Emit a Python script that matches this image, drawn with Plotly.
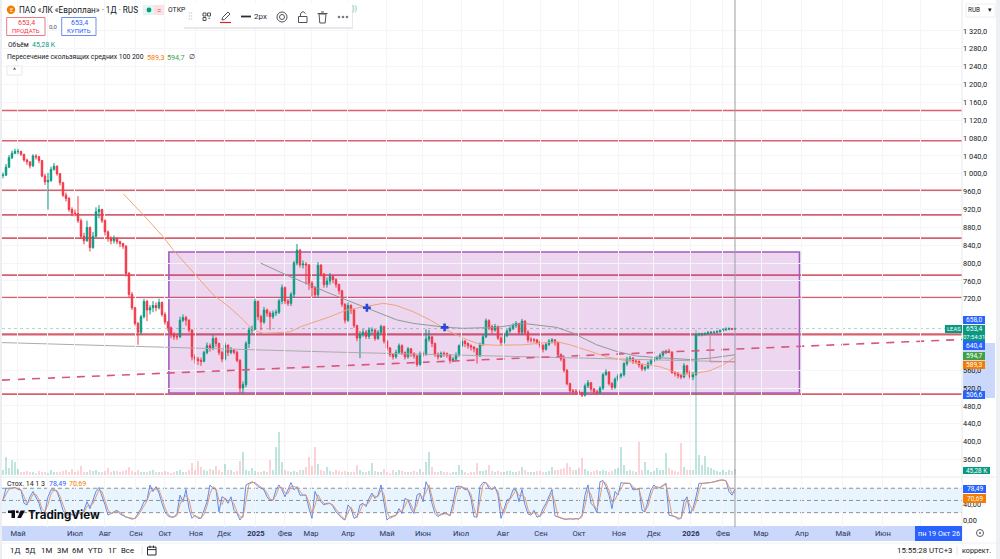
import plotly.graph_objects as go

W, H = 1000, 559

# Daily bars of LEAS, thinned to every second session
closes = [
    997,1015,1036,1046,1050,1050,1044,1031,1027,1018,
    1040,1038,1030,995,982,985,1010,1017,1000,980,
    952,945,920,912,911,895,860,850,880,835,
    860,915,920,895,870,855,850,855,848,844,
    838,777,730,700,665,645,680,714,695,700,
    705,700,712,685,668,655,640,635,635,672,
    678,672,650,590,585,582,580,600,615,610,
    631,620,600,585,616,600,605,600,582,520,
    528,620,650,652,714,680,668,695,688,680,
    688,690,715,745,715,710,730,800,829,796,
    798,796,755,745,729,795,775,752,760,770,
    763,752,738,708,672,705,695,660,632,640,
    645,636,650,650,631,645,658,625,610,595,
    590,600,615,600,590,608,598,592,573,597,
    596,630,635,620,595,590,598,597,594,582,
    585,594,615,625,620,615,612,608,592,617,
    635,671,658,650,658,632,622,638,648,654,
    660,665,645,670,645,628,628,628,623,616,
    607,618,625,628,622,595,585,560,530,514,
    512,512,510,504,525,532,518,512,510,520,
    550,556,530,522,540,547,550,575,585,587,
    580,580,572,563,566,575,582,585,587,594,
    600,603,600,555,553,548,545,570,556,545,
    550,640,640,641,642,644,645,645,646,648,650,652,653,652,653.4,
]
highs = [
    1003,1022,1042,1052,1056,1056,1052,1044,1034,1027,
    1044,1044,1040,1030,1000,1002,1016,1024,1019,1002,
    982,958,948,925,920,950,900,868,895,882,
    870,925,930,922,898,873,860,862,858,850,
    845,840,780,735,702,668,684,720,718,706,
    715,712,720,714,690,670,658,645,642,680,
    685,682,674,652,596,590,588,604,622,620,
    640,635,622,604,622,618,612,608,604,585,
    535,625,656,660,720,716,684,702,698,692,
    694,696,720,752,748,720,735,805,843,832,
    806,802,798,760,748,802,798,778,768,778,
    772,766,754,740,710,712,708,698,662,648,
    652,650,656,656,652,650,662,660,628,612,
    598,606,620,618,602,612,610,600,594,602,
    602,652,650,636,622,600,602,602,600,596,
    590,600,618,630,628,622,618,614,610,622,
    640,676,674,662,664,660,636,642,652,658,
    665,670,666,675,672,650,634,632,630,625,
    618,622,630,632,630,624,598,588,562,532,
    518,518,516,512,530,538,534,520,516,524,
    554,562,558,534,544,552,554,578,590,592,
    590,584,582,574,570,580,586,590,592,598,
    604,606,608,603,558,556,552,576,572,560,
    556,642,644,644,645,648,648,648,650,652,654,656,656,655,655,
]
lows = [
    990,995,1013,1033,1044,1044,1040,1027,1020,1012,
    1015,1032,1024,992,975,920,982,1007,996,974,
    948,938,915,905,905,890,855,842,848,826,
    832,858,900,890,862,848,842,844,842,836,
    832,770,724,695,660,617,640,676,670,685,
    690,692,696,680,662,648,632,628,628,632,
    668,660,645,582,575,572,570,578,596,602,
    605,612,594,578,582,592,596,596,578,508,
    508,522,610,642,648,672,650,664,680,650,
    675,682,686,708,708,704,704,722,795,790,
    788,752,740,725,722,722,770,745,745,752,
    755,745,730,702,665,668,686,655,625,587,
    635,630,630,640,626,628,640,620,604,590,
    584,586,596,594,584,586,590,586,568,570,
    590,592,624,612,590,584,588,590,588,575,
    578,582,590,612,612,608,604,600,575,590,
    615,632,650,642,646,628,615,618,634,644,
    650,655,640,640,640,622,622,622,618,610,
    600,604,614,620,615,590,580,555,526,510,
    506,506,505,500,501,520,512,506,505,506,
    516,548,526,516,518,535,542,546,570,580,
    574,574,566,558,558,562,572,578,582,584,
    590,596,598,552,546,542,540,542,552,540,
    538,548,636,636,638,640,641,642,644,645,648,650,650,650,651,
]
volumes_k = [
    40,135,50,110,100,45,25,20,30,20,
    25,18,28,22,25,18,35,25,20,22,
    30,40,25,45,20,30,65,25,20,40,
    30,35,22,25,30,55,25,30,30,25,
    28,35,60,30,25,35,25,20,22,28,
    35,25,22,20,30,25,18,22,30,40,
    25,20,35,90,35,105,60,40,30,45,
    35,65,40,25,85,40,35,25,30,105,
    172,40,30,55,30,25,20,30,25,112,
    40,210,322,100,40,30,25,30,25,35,
    40,60,135,70,210,80,35,30,60,30,
    25,35,30,20,30,25,20,22,75,35,
    25,22,30,88,30,22,25,45,25,18,
    35,22,38,30,22,20,25,30,22,45,
    20,100,175,60,25,20,30,22,25,18,
    25,22,75,40,22,18,22,20,88,30,
    30,35,75,28,22,30,25,20,28,30,
    25,22,30,62,35,22,20,25,30,28,
    22,25,30,60,40,35,45,55,88,60,
    40,35,50,125,45,30,25,30,35,28,
    40,30,25,28,45,50,212,75,30,35,
    28,25,250,40,100,35,22,30,50,35,
    35,165,50,35,30,25,240,60,40,35,
    40,1087,150,75,140,60,50,40,30,25,40,25,35,30,45.28,
]
stoch_k = [
    51,80,80,80,82,77,76,43,39,59,
    72,59,43,18,22,59,76,76,72,51,
    26,14,14,17,10,26,14,26,47,30,
    51,72,82,63,39,14,18,22,26,17,
    12,9,7,4,6,18,30,47,51,88,
    72,84,68,43,22,12,9,9,18,63,
    47,77,30,6,14,6,6,26,47,88,
    80,77,22,59,55,43,59,26,18,2,
    14,88,92,96,92,84,80,76,59,50,
    51,76,88,76,59,76,94,76,84,63,
    63,63,30,6,72,55,47,39,43,43,
    35,22,14,6,2,39,30,6,10,39,
    43,35,55,68,55,63,88,43,2,9,
    12,14,30,18,55,51,30,18,63,68,
    47,96,80,43,18,10,17,18,17,12,
    43,84,85,82,77,76,55,10,9,84,
    94,94,80,77,84,63,6,30,51,55,
    76,77,47,77,39,17,14,26,9,12,
    30,43,59,77,12,9,6,4,4,5,
    4,6,4,14,63,88,43,35,20,96,
    99,84,63,30,72,63,94,92,92,92,
    76,77,80,26,22,51,76,88,80,82,
    88,92,14,12,10,4,6,47,59,18,
    30,59,92,92,92,94,94,96,98,100,100,98,72,63,78.49,
]
stoch_d = [
    51,65,78,80,81,79,76,60,42,50,
    65,65,52,30,22,40,66,76,74,60,
    38,20,14,15,13,18,20,20,36,38,
    42,60,76,72,50,27,17,20,24,21,
    15,10,8,6,5,12,24,38,49,70,
    78,78,76,55,32,17,10,9,13,40,
    55,62,52,18,10,10,6,16,36,66,
    84,78,50,40,56,49,50,42,22,10,
    8,50,90,94,94,88,82,78,68,54,
    50,63,82,82,68,67,84,85,80,73,
    63,63,46,18,38,64,51,43,41,43,
    39,28,18,10,4,20,34,18,8,24,
    41,39,45,62,61,59,75,65,22,6,
    10,13,22,24,36,53,40,24,40,65,
    57,70,88,62,30,14,14,17,18,14,
    27,63,84,84,80,76,65,32,10,46,
    88,94,87,78,80,73,34,18,40,53,
    65,76,62,62,58,28,16,20,18,10,
    20,36,51,68,44,10,8,5,4,5,
    4,5,5,9,38,75,65,39,28,58,
    97,92,74,46,51,68,78,93,92,92,
    84,76,78,53,24,36,63,82,84,81,
    85,90,53,13,11,7,5,26,53,38,
    24,44,75,92,92,93,94,95,97,99,100,99,85,68,70.69,
]
assert len(closes) == len(highs) == len(lows) == len(volumes_k) == len(stoch_k) == len(stoch_d)

ma100_at = [40.1,46.8,53.4,56.8,61.2,65.7,70.1,74.6,79,83.4,86.8,91.2,95.7,99,104.6,109,
            114.6,121.2,126.8,131.2,136.8,142.3,147.9,153.4,159,164.6,173.4,184.6,189,194.6,
            201.2,207.9,212.3,219,226.7,231.3,235.6,240.1,244]
ma100 = [955,908,859,829,796,762,729,706,680,650,643,644,646,657,669,680,
         695,703,710,705,691,673,650,632,618,616,617,624,617,605,
         590,581,575,568,549,554,559,572,589.3]
ma200_at = [85.9,94.6,109,114.6,120.1,125.7,131.2,136.8,142.3,147.9,153.4,159,164.6,173.4,
            177.9,184.6,190.1,197.9,204.6,211.2,219,229,235.6,244]
ma200 = [800,773,732,717,703,688,673,665,661,656,654,655,656,665,
         661,656,643,617,602,592,588,584,587,594.7]
long_avg_at = [-0.33,109,219,244]
long_avg = [622,601,583,579]

support_levels = [1142,1074,963,908,856,773,723,640.4,506.6]
trend_at = [-0.33,320]
trend = [538,629]
zone_sessions = [55.3,265.5]
zone_prices = [509,825]
cross_at = [121.3,147.2]
cross_prices = [700,656]
leader_at = [235.7,235.7,244]
leader_prices = [640,579,579]
cursor_session = 244
last_price = 653.4

month_at = [5,15,24,34,44.3,54,64.3,73.7,84.3,94,102.7,115,128,140,152.7,166.7,179.3,192,205.3,217,229.3,240,252.7,266.3,280,293.3,306]
month_names = ["Май","","Июл","Авг","Сен","Окт","Ноя","Дек","<b>2025</b>","Фев","Мар","Апр","Май","Июн","Июл","Авг","Сен","Окт","Ноя","Дек","<b>2026</b>","Фев","Мар","Апр","Май","Июн",""]
price_ticks = [360,400,440,480,520,560,720,760,800,840,880,920,960,1000,1040,1080,1120,1160,1200,1240,1280,1320]
price_grid = [360+40*k for k in range(25)]
stoch_ticks = [0,40]

UP, DOWN = "#089981", "#F23645"
INK = "#131722"
FONT = "Roboto, Noto Sans, sans-serif"

sessions = list(range(len(closes)))
opens = closes[:1] + closes[:-1]
vol_colors = ["rgba(8,153,129,0.26)" if c >= o else "rgba(242,54,69,0.22)" for o, c in zip(opens, closes)]


def px(x):
    return x / W


def py(y):
    return 1 - y / H


def price_label(v):
    return f"{v:,.1f}".replace(",", " ").replace(".", ",")


shapes = []
notes = []


def rect(x0, y0, x1, y1, fill="rgba(0,0,0,0)", line=None, lw=1, layer="above"):
    shapes.append(dict(type="rect", xref="paper", yref="paper", x0=px(x0), x1=px(x1), y0=py(y1), y1=py(y0),
                       fillcolor=fill, line=dict(color=line or "rgba(0,0,0,0)", width=lw if line else 0), layer=layer))


def seg(x0, y0, x1, y1, color, lw=1, dash=None, layer="above"):
    shapes.append(dict(type="line", xref="paper", yref="paper", x0=px(x0), x1=px(x1), y0=py(y0), y1=py(y1),
                       line=dict(color=color, width=lw, dash=dash), layer=layer))


def disc(cx, cy, r, fill="rgba(0,0,0,0)", line=None, lw=1, layer="above"):
    shapes.append(dict(type="circle", xref="paper", yref="paper", x0=px(cx - r), x1=px(cx + r), y0=py(cy + r), y1=py(cy - r),
                       fillcolor=fill, line=dict(color=line or "rgba(0,0,0,0)", width=lw if line else 0), layer=layer))


def poly(points, fill="rgba(0,0,0,0)", line=None, lw=1):
    d = "M " + " L ".join(f"{px(a):.5f} {py(b):.5f}" for a, b in points) + " Z"
    shapes.append(dict(type="path", xref="paper", yref="paper", path=d, fillcolor=fill,
                       line=dict(color=line or "rgba(0,0,0,0)", width=lw if line else 0), layer="above"))


def text(x, y, s, size=8, color=INK, anchor="left", family=FONT):
    notes.append(dict(xref="paper", yref="paper", x=px(x), y=py(y), text=s, showarrow=False, xanchor=anchor, yanchor="middle",
                      font=dict(size=size, color=color, family=family), borderpad=0, borderwidth=0))


def tag(x0, y0, x1, y1, s, fill, size=6.6):
    rect(x0, y0, x1, y1, fill=fill)
    text((x0 + x1) / 2, (y0 + y1) / 2, s, size=size, color="white", anchor="center")


fig = go.Figure()

# Price pane
fig.add_trace(go.Candlestick(x=sessions, open=opens, high=highs, low=lows, close=closes,
                             increasing=dict(line=dict(color=UP, width=1), fillcolor=UP),
                             decreasing=dict(line=dict(color=DOWN, width=1), fillcolor=DOWN),
                             whiskerwidth=0, showlegend=False, xaxis="x", yaxis="y"))
fig.add_trace(go.Scatter(x=long_avg_at, y=long_avg, mode="lines", line=dict(color="#ababab", width=1), xaxis="x", yaxis="y"))
fig.add_trace(go.Scatter(x=ma200_at, y=ma200, mode="lines", line=dict(color="#8f9a95", width=1), xaxis="x", yaxis="y"))
fig.add_trace(go.Scatter(x=ma100_at, y=ma100, mode="lines", line=dict(color="#f0a57c", width=1), xaxis="x", yaxis="y"))
fig.add_trace(go.Scatter(x=trend_at, y=trend, mode="lines", line=dict(color="#d9557a", width=1.6, dash="8px,7px"), xaxis="x", yaxis="y"))
fig.add_trace(go.Scatter(x=leader_at, y=leader_prices, mode="lines", line=dict(color="#c98a98", width=1), xaxis="x", yaxis="y"))
fig.add_trace(go.Scatter(x=cross_at, y=cross_prices, mode="markers",
                         marker=dict(symbol="cross", size=6.5, color="#2a48d8", line=dict(width=0)), xaxis="x", yaxis="y"))

# Volume histogram along the bottom of the price pane
fig.add_trace(go.Bar(x=sessions, y=volumes_k, marker=dict(color=vol_colors, line=dict(width=0)), width=0.5, xaxis="x", yaxis="y2"))

# Stochastic pane
fig.add_trace(go.Scatter(x=sessions, y=stoch_k, mode="lines", line=dict(color="rgba(74,120,232,0.85)", width=1), xaxis="x", yaxis="y3"))
fig.add_trace(go.Scatter(x=sessions, y=stoch_d, mode="lines", line=dict(color="rgba(226,150,110,0.95)", width=1), xaxis="x", yaxis="y3"))

# Chart drawings tied to the price scale
for level in support_levels:
    shapes.append(dict(type="line", xref="x domain", yref="y", x0=0, x1=1, y0=level, y1=level, layer="below",
                       line=dict(color="#d8606e", width=2.4 if level == 640.4 else 1.6)))
shapes.append(dict(type="rect", xref="x", yref="y", x0=zone_sessions[0], x1=zone_sessions[1], y0=zone_prices[0], y1=zone_prices[1],
                   fillcolor="rgba(156,39,176,0.19)", line=dict(color="#a45cbc", width=1.6), layer="below"))
shapes.append(dict(type="line", xref="x domain", yref="y", x0=0, x1=1, y0=last_price, y1=last_price, layer="below",
                   line=dict(color="#a9d8cf", width=1, dash="dot")))
shapes.append(dict(type="line", xref="x", yref="paper", x0=cursor_session, x1=cursor_session, y0=py(527), y1=1, layer="above",
                   line=dict(color="#9a9ca3", width=1)))

# Stochastic band and guide levels
shapes.append(dict(type="rect", xref="x domain", yref="y3", x0=0, x1=1, y0=20, y1=80, fillcolor="rgba(33,150,243,0.1)", line=dict(width=0), layer="below"))
for lvl in (20, 50, 80):
    shapes.append(dict(type="line", xref="x domain", yref="y3", x0=0, x1=1, y0=lvl, y1=lvl, layer="below",
                       line=dict(color="#8d9097", width=1, dash="4px,3px")))

# Window frame and axis furniture
rect(0, 0, 2, H, fill="#eceef1", layer="below")
rect(996, 0, 1000, H, fill="#eef0f3", layer="below")
rect(2, 526, 962, 541, fill="#c9d8fb", layer="below")
rect(963, 343, 995, 398, fill="#c9d8fb", layer="below")
seg(2, 477, 995, 477, "#e6e8ec", 1, layer="below")
seg(962, 0, 962, 541, "#e6e8ec", 1, layer="below")
seg(0, 543, 1000, 543, "#eef0f3", 1, layer="below")

# Price tags on the right scale
tag(963, 316, 985, 324, "658,0", "#2962FF")
tag(963, 325, 985, 333, "653,4", UP)
tag(963, 333, 985, 341, "07:54:31", UP, size=5.8)
tag(963, 341, 985, 350, "640,4", "#2962FF")
tag(963, 352, 985, 360, "594,7", "#43A047")
tag(963, 361, 985, 369, "589,3", "#F57C00")
tag(963, 391, 985, 399, "506,6", "#2962FF")
tag(945, 325, 962, 333, "LEAS", UP, size=5.8)
tag(963, 467, 990, 474, "45,28 K", UP, size=6.4)
tag(963, 485, 986, 493, "78,49", "#2962FF")
tag(963, 494, 986, 503, "70,69", "#F57C00")
rect(915, 526, 962, 541, fill="#2962FF")
text(938.5, 533.5, "пн 19 Окт 26", size=7.2, color="white", anchor="center")
rect(966, 4, 995, 17, fill="white", line="#eceef1")
text(968, 10, "RUB", size=6.4)
text(990, 10, "▾", size=7, anchor="center")
disc(980, 533, 3.5, fill="white", line="#5a5e68")
disc(980, 533, 1, fill="#5a5e68")

# Legend block
disc(11, 9.7, 4.2, fill="#F57C00")
text(11, 9.7, "Е", size=5.5, color="white", anchor="center")
text(19, 10, "ПАО «ЛК «Европлан» · 1Д · RUS", size=8.2)
rect(143, 5, 164, 15, fill="#e4f4f0")
disc(149, 10, 2.4, fill=UP)
rect(154, 5, 164, 15, fill="#fbe0e5")
text(159, 10, "=", size=8, color="#d83a5a", anchor="center")
text(168, 10, "ОТКР", size=6.8)
text(352, 9, "))", size=7, color="#5ab9a8")
rect(6.7, 17.5, 45, 35.5, fill="white", line="#e77b8a")
text(26, 23.3, "653,4", size=7, color="#F23645", anchor="center")
text(26, 30.4, "ПРОДАТЬ", size=6, color="#F23645", anchor="center")
text(53.5, 27, "0,0", size=6, color="#50535e", anchor="center")
rect(61.7, 17.5, 96, 35.5, fill="white", line="#6f90e8")
text(79, 23.3, "653,4", size=7, color="#2962FF", anchor="center")
text(79, 30.4, "КУПИТЬ", size=6, color="#2962FF", anchor="center")
text(7.5, 44.7, "Объём", size=6.6)
text(32, 44.7, "45,28 K", size=7, color=UP)
text(7, 57, "Пересечение скользящих средних 100 200", size=6.8)
text(147, 57, "589,3", size=7.2, color="#F57C00")
text(166.5, 57, "594,7", size=7.2, color="#43A047")
text(189, 57, "∅", size=7)
rect(7, 66, 22, 75, fill="white", line="#e6e8ec")
text(14.5, 70.5, "^", size=7, anchor="center")

# Stochastic legend
text(7, 483.7, "Стох. 14 1 3", size=7)
text(49, 483.7, "78,49", size=7, color="#2962FF")
text(69, 483.7, "70,69", size=7, color="#F57C00")

# Drawing toolbar
rect(184, 5, 353, 29, fill="#e9e9ec")
rect(183, 3, 352, 27, fill="white")
for dy in (13, 16, 19):
    disc(189.3, dy, 0.7, fill="#c9cbd1")
    disc(191.6, dy, 0.7, fill="#c9cbd1")
for ax, ay in ((203, 13), (207.5, 13), (203, 17.5)):
    rect(ax, ay, ax + 3, ay + 3, line="#50535e", lw=1)
text(208.8, 19, "•", size=7, color="#50535e", anchor="center")
poly([(228, 12), (230, 14), (224.5, 19.5), (222, 20), (222.5, 17.5)], line="#50535e")
seg(220, 22.5, 231, 22.5, "#d6222f", 1.2)
seg(241, 16.5, 251, 16.5, "#2a2e39", 1.8)
text(254, 16.5, "2px", size=8, color="#2a2e39")
disc(282, 17, 5, line="#50535e", lw=1)
disc(282, 17, 2.5, line="#50535e", lw=1)
rect(298.5, 16.5, 307, 22.5, line="#50535e")
shapes.append(dict(type="path", xref="paper", yref="paper", layer="above",
                   path=f"M {px(300.5)} {py(16.5)} L {px(300.5)} {py(13.5)} L {px(303)} {py(11.5)} L {px(305.5)} {py(13.5)}",
                   line=dict(color="#50535e", width=1)))
poly([(319, 14), (326, 14), (325.2, 23), (319.8, 23)], line="#50535e")
seg(317.5, 13.5, 327.5, 13.5, "#50535e", 1)
seg(321, 12, 324, 12, "#50535e", 1)
for dx in (339, 343, 347):
    disc(dx, 17, 1.3, fill="#787b86")

# TradingView mark
LOGO = "#0d0f14"
rect(8, 510.5, 15, 513, fill=LOGO)
rect(11.5, 510.5, 15, 518, fill=LOGO)
disc(17.3, 511.8, 1.4, fill=LOGO)
poly([(25, 510.5), (21, 518), (17.3, 518), (20.6, 510.5)], fill=LOGO)
text(27.5, 514.5, "<b>TradingView</b>", size=11.6, color=LOGO, family="Inter, sans-serif")

# Range and clock bar
for lx, lab in ((10, "1Д"), (25, "5Д"), (41, "1М"), (57, "3М"), (72, "6М"), (88, "YTD"), (108, "1Г"), (121, "Все")):
    text(lx, 550.5, lab, size=7.8)
seg(142, 546, 142, 555, "#e3e5ea", 1)
rect(147.5, 547, 156, 555, line="#2a2e39")
seg(147.5, 549.6, 156, 549.6, "#2a2e39", 1)
seg(150, 545.6, 150, 548, "#2a2e39", 1)
seg(153.5, 545.6, 153.5, 548, "#2a2e39", 1)
text(951.5, 550.5, "15:55:28 UTC+3", size=7.8, anchor="right")
seg(957, 546, 957, 555, "#e3e5ea", 1)
text(962, 550.5, "коррект.", size=7.2)

y_grid = "#f5f5f7"
fig.update_layout(
    width=W, height=H, margin=dict(l=0, r=0, t=0, b=0), autosize=False,
    paper_bgcolor="white", plot_bgcolor="rgba(0,0,0,0)", showlegend=False, bargap=0,
    hovermode=False, font=dict(family=FONT, color=INK, size=8),
    shapes=shapes, annotations=notes,
    xaxis=dict(domain=[px(2), px(962)], range=[-0.33, 319.67], anchor="y3", tickmode="array", tickvals=month_at, ticktext=month_names,
               showgrid=True, gridcolor=y_grid, gridwidth=1, zeroline=False, showline=False, ticks="",
               tickfont=dict(size=7.6, color="#2a3558"), rangeslider=dict(visible=False), ticklabelstandoff=0, fixedrange=True),
    yaxis=dict(domain=[py(477), 1], range=[320.9, 1389.4], side="right", anchor="x", tickmode="array", tickvals=price_ticks,
               ticktext=[price_label(v) for v in price_ticks], showgrid=True, gridcolor=y_grid, zeroline=False, showline=False, ticks="",
               tickfont=dict(size=7.4, color=INK), fixedrange=True),
    yaxis2=dict(domain=[py(475), py(330)], range=[0, 1087.5], anchor="x", visible=False, fixedrange=True),
    yaxis3=dict(domain=[py(527), py(477)], range=[-15.2, 107.6], side="right", anchor="x", tickmode="array", tickvals=stoch_ticks,
                ticktext=["0,00", "40,00"], showgrid=False, zeroline=False, showline=False, ticks="",
                tickfont=dict(size=7.4, color=INK), fixedrange=True),
)

fig.write_html("out.html", config=dict(displayModeBar=False))
